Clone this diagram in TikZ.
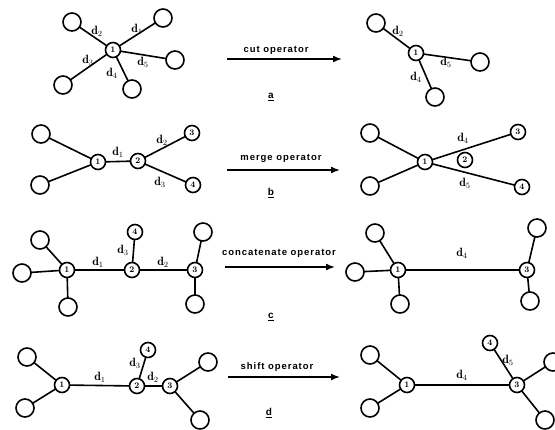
\documentclass[tikz,border=0pt]{standalone}
\usepackage{fontspec}
\newfontfamily\opfont[LetterSpace=10]{Liberation Sans}
\newfontfamily\tagfont{Liberation Sans}
\usepackage{tikz}
\usetikzlibrary{arrows.meta}
\begin{document}
\begin{tikzpicture}[x=1pt,y=-1pt,inner sep=0,outer sep=0,
    leaf/.style={draw=black,line width=1.6pt,circle,minimum size=18pt,fill=white},
    vtx/.style={draw=black,line width=1.6pt,circle,minimum size=15pt,fill=white,font=\fontsize{8.5}{8.5}\selectfont\bfseries},
    bond/.style={line width=1.6pt},
    dlab/.style={font=\fontsize{12}{12}\selectfont},
    oplab/.style={font=\opfont\bfseries\fontsize{9.5}{10}\selectfont},
    tag/.style={font=\tagfont\bfseries\fontsize{10}{10}\selectfont},
    oparrow/.style={line width=1.6pt,-{Latex[length=9pt,width=7pt]}}]

    \useasboundingbox (0,0) rectangle (555,429);

    % (a) cut operator, before
    \node[vtx] (a1) at (113,50) {1};
    \node[leaf] (aTL) at (72,22) {};
    \node[leaf] (aTR) at (163,18) {};
    \node[leaf] (aR) at (175,60) {};
    \node[leaf] (aB) at (132,89) {};
    \node[leaf] (aBL) at (63,85) {};
    \draw[bond] (a1) -- (aTL);
    \draw[bond] (a1) -- (aTR);
    \draw[bond] (a1) -- (aR);
    \draw[bond] (a1) -- (aB);
    \draw[bond] (a1) -- (aBL);
    \node[dlab] (ad2) at (97,31) {$\mathbf{d}_2$};
    \node[dlab] (ad1) at (137,29) {$\mathbf{d}_1$};
    \node[dlab] (ad3) at (88,60) {$\mathbf{d}_3$};
    \node[dlab] (ad4) at (112,73) {$\mathbf{d}_4$};
    \node[dlab] (ad5) at (143,62) {$\mathbf{d}_5$};

    % (a) cut operator, after
    \node[vtx] (A1) at (416,53) {1};
    \node[leaf] (ATL) at (376,23) {};
    \node[leaf] (AR) at (480,62) {};
    \node[leaf] (AB) at (435,97) {};
    \draw[bond] (A1) -- (ATL);
    \draw[bond] (A1) -- (AR);
    \draw[bond] (A1) -- (AB);
    \node[dlab] (Ad2) at (398,31) {$\mathbf{d}_2$};
    \node[dlab] (Ad5) at (446,62) {$\mathbf{d}_5$};
    \node[dlab] (Ad4) at (416,77) {$\mathbf{d}_4$};

    % (a) arrow
    \coordinate (aS) at (227,59);
    \coordinate (aE) at (342,59);
    \draw[oparrow] (aS) -- (aE);
    \node[oplab] (aOp) at (276,50) {cut operator};
    \node[tag] (aTag) at (271,97) {\underline{a}};

    % (b) merge operator, before
    \node[vtx] (b1) at (98,162) {1};
    \node[vtx] (b2) at (138,161) {2};
    \node[vtx] (b3) at (192,133) {3};
    \node[vtx] (b4) at (193,185) {4};
    \node[leaf] (bTL) at (41,134) {};
    \node[leaf] (bBL) at (40,185) {};
    \draw[bond] (b1) -- (bTL);
    \draw[bond] (b1) -- (bBL);
    \draw[bond] (b1) -- (b2);
    \draw[bond] (b2) -- (b3);
    \draw[bond] (b2) -- (b4);
    \node[dlab] (bd1) at (118,152) {$\mathbf{d}_1$};
    \node[dlab] (bd2) at (162,140) {$\mathbf{d}_2$};
    \node[dlab] (bd3) at (160,182) {$\mathbf{d}_3$};

    % (b) merge operator, after
    \node[vtx] (B1) at (425,162) {1};
    \node[vtx] (B2) at (465,160) {2};
    \node[vtx] (B3) at (518,132) {3};
    \node[vtx] (B4) at (522,187) {4};
    \node[leaf] (BTL) at (370,133) {};
    \node[leaf] (BBL) at (370,186) {};
    \draw[bond] (B1) -- (BTL);
    \draw[bond] (B1) -- (BBL);
    \draw[bond] (B1) -- (B3);
    \draw[bond] (B1) -- (B4);
    \node[dlab] (Bd4) at (463,138) {$\mathbf{d}_4$};
    \node[dlab] (Bd5) at (465,183) {$\mathbf{d}_5$};

    % (b) arrow
    \coordinate (bS) at (227,170);
    \coordinate (bE) at (340,170);
    \draw[oparrow] (bS) -- (bE);
    \node[oplab] (bOp) at (281,158) {merge operator};
    \node[tag] (bTag) at (271,193) {\underline{b}};

    % (c) concatenate operator, before
    \node[vtx] (c1) at (67,270) {1};
    \node[vtx] (c2) at (132,270) {2};
    \node[vtx] (c3) at (195,270) {3};
    \node[vtx] (c4) at (135,232) {4};
    \node[leaf] (cL) at (22,273) {};
    \node[leaf] (cTL) at (40,240) {};
    \node[leaf] (cB) at (68,307) {};
    \node[leaf] (cT3) at (203,232) {};
    \node[leaf] (cB3) at (195,304) {};
    \draw[bond] (c1) -- (cL);
    \draw[bond] (c1) -- (cTL);
    \draw[bond] (c1) -- (cB);
    \draw[bond] (c1) -- (c2);
    \draw[bond] (c2) -- (c3);
    \draw[bond] (c2) -- (c4);
    \draw[bond] (c3) -- (cT3);
    \draw[bond] (c3) -- (cB3);
    \node[dlab] (cd1) at (98,262) {$\mathbf{d}_1$};
    \node[dlab] (cd2) at (163,262) {$\mathbf{d}_2$};
    \node[dlab] (cd3) at (123,250) {$\mathbf{d}_3$};

    % (c) concatenate operator, after
    \node[vtx] (C1) at (398,270) {1};
    \node[vtx] (C3) at (527,270) {3};
    \node[leaf] (CL) at (355,272) {};
    \node[leaf] (CTL) at (375,233) {};
    \node[leaf] (CB) at (400,304) {};
    \node[leaf] (CT3) at (537,228) {};
    \node[leaf] (CB3) at (530,301) {};
    \draw[bond] (C1) -- (CL);
    \draw[bond] (C1) -- (CTL);
    \draw[bond] (C1) -- (CB);
    \draw[bond] (C1) -- (C3);
    \draw[bond] (C3) -- (CT3);
    \draw[bond] (C3) -- (CB3);
    \node[dlab] (Cd4) at (462,253) {$\mathbf{d}_4$};

    % (c) arrow
    \coordinate (cS) at (225,267);
    \coordinate (cE) at (335,267);
    \draw[oparrow] (cS) -- (cE);
    \node[oplab] (cOp) at (279,253) {concatenate operator};
    \node[tag] (cTag) at (271,317) {\underline{c}};

    % (d) shift operator, before
    \node[vtx] (d1) at (62,385) {1};
    \node[vtx] (d2) at (137,386) {2};
    \node[vtx] (d3) at (170,386) {3};
    \node[vtx] (d4) at (148,350) {4};
    \node[leaf] (dTL) at (27,357) {};
    \node[leaf] (dBL) at (25,408) {};
    \node[leaf] (dTR) at (208,362) {};
    \node[leaf] (dBR) at (200,420) {};
    \draw[bond] (d1) -- (dTL);
    \draw[bond] (d1) -- (dBL);
    \draw[bond] (d1) -- (d2);
    \draw[bond] (d2) -- (d3);
    \draw[bond] (d2) -- (d4);
    \draw[bond] (d3) -- (dTR);
    \draw[bond] (d3) -- (dBR);
    \node[dlab] (dd1) at (100,377) {$\mathbf{d}_1$};
    \node[dlab] (dd2) at (153,377) {$\mathbf{d}_2$};
    \node[dlab] (dd3) at (135,363) {$\mathbf{d}_3$};

    % (d) shift operator, after
    \node[vtx] (D1) at (407,385) {1};
    \node[vtx] (D3) at (517,385) {3};
    \node[vtx] (D4) at (490,343) {4};
    \node[leaf] (DTL) at (370,355) {};
    \node[leaf] (DBL) at (370,408) {};
    \node[leaf] (DTR) at (553,362) {};
    \node[leaf] (DBR) at (545,420) {};
    \draw[bond] (D1) -- (DTL);
    \draw[bond] (D1) -- (DBL);
    \draw[bond] (D1) -- (D3);
    \draw[bond] (D3) -- (D4);
    \draw[bond] (D3) -- (DTR);
    \draw[bond] (D3) -- (DBR);
    \node[dlab] (Dd4) at (462,375) {$\mathbf{d}_4$};
    \node[dlab] (Dd5) at (508,360) {$\mathbf{d}_5$};

    % (d) arrow
    \coordinate (dS) at (228,377);
    \coordinate (dE) at (340,377);
    \draw[oparrow] (dS) -- (dE);
    \node[oplab] (dOp) at (277,367) {shift operator};
    \node[tag] (dTag) at (269,413) {\underline{d}};

\end{tikzpicture}
\end{document}
